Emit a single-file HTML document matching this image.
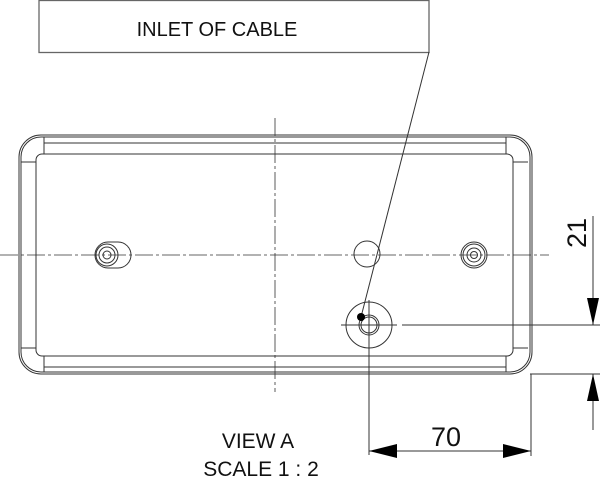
<!DOCTYPE html>
<html><head><style>body{margin:0;background:#fff}svg{display:block}</style></head>
<body>
<svg width="600" height="484" viewBox="0 0 600 484" xmlns="http://www.w3.org/2000/svg" font-family="Liberation Sans, DejaVu Sans, sans-serif">
<g fill="none" stroke="#333" stroke-width="1">
<rect x="39" y="0.5" width="390" height="52" stroke="#666" stroke-width="1.3"/>
<rect x="19" y="135" width="513" height="239" rx="22"/>
<rect x="21" y="137" width="509" height="235" rx="20"/>
<rect x="36" y="154" width="477" height="202" rx="6"/>
<line x1="44" y1="143" x2="506" y2="143"/>
<line x1="44" y1="367" x2="506" y2="367"/>
<line x1="44" y1="137" x2="44" y2="154"/>
<line x1="44" y1="356" x2="44" y2="372"/>
<line x1="506" y1="137" x2="506" y2="154"/>
<line x1="506" y1="356" x2="506" y2="372"/>
<line x1="21" y1="162" x2="36" y2="162"/>
<line x1="21" y1="348" x2="36" y2="348"/>
<line x1="513" y1="162" x2="528" y2="162"/>
<line x1="513" y1="348" x2="528" y2="348"/>
<line x1="0" y1="255" x2="549" y2="255" stroke-dasharray="18,3,3,3" stroke-width="0.8"/>
<line x1="275" y1="118" x2="275" y2="392" stroke-dasharray="18,3,3,3" stroke-width="0.8"/>
<rect x="95" y="242" width="36" height="26" rx="13"/>
<circle cx="107" cy="255" r="11"/><circle cx="107" cy="255" r="8"/><circle cx="107" cy="255" r="4"/>
<circle cx="474" cy="255" r="13"/><circle cx="474" cy="255" r="11"/><circle cx="474" cy="255" r="7"/><circle cx="474" cy="255" r="3.5"/>
<circle cx="367" cy="254" r="13"/>
<circle cx="369" cy="325" r="23"/><circle cx="369" cy="325" r="10"/><circle cx="369" cy="325" r="8"/>
<line x1="341" y1="325" x2="397" y2="325"/>
<line x1="369" y1="300" x2="369" y2="455"/>
<line x1="402" y1="325" x2="600" y2="325"/>
<line x1="530" y1="374" x2="600" y2="374"/>
<line x1="531" y1="374" x2="531" y2="456"/>
<line x1="429" y1="52" x2="361" y2="317"/>
<line x1="593" y1="216" x2="593" y2="325"/>
<line x1="593" y1="374" x2="593" y2="430"/>
<line x1="369" y1="451" x2="531" y2="451"/>
</g>
<circle cx="361" cy="317" r="4" fill="#000"/>
<g fill="#000">
<polygon points="593,325 587,298 599,298"/>
<polygon points="593,374 587,401 599,401"/>
<polygon points="369,451 397,444 397,458"/>
<polygon points="531,451 503,444 503,458"/>
</g>
<g fill="#111">
<text x="217" y="36" font-size="20" text-anchor="middle">INLET OF CABLE</text>
<text x="446" y="446" font-size="27" text-anchor="middle">70</text>
<text transform="translate(586,233) rotate(-90)" font-size="27" text-anchor="middle">21</text>
<text x="258" y="448" font-size="21" text-anchor="middle">VIEW A</text>
<text x="261" y="476" font-size="21" text-anchor="middle">SCALE 1 : 2</text>
</g>
</svg>
</body></html>
